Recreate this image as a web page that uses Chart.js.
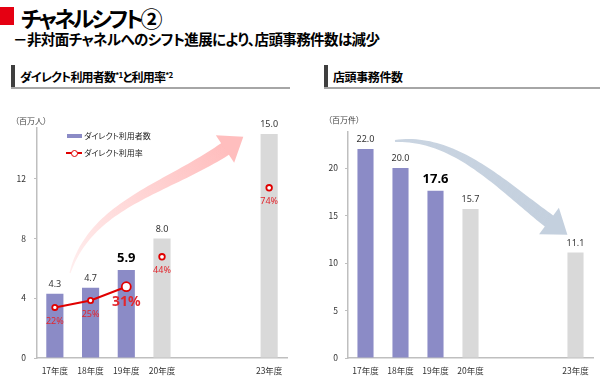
<!DOCTYPE html>
<html lang="ja">
<head>
<meta charset="utf-8">
<script src="https://cdn.jsdelivr.net/npm/chart.js@4"></script>
<style>
  body { margin: 0; width: 600px; height: 389px; background: #fff; overflow: hidden; position: relative;
         font-family: "Noto Sans CJK JP", sans-serif; font-feature-settings: "palt"; color: #000; }
  .abs { position: absolute; white-space: nowrap; line-height: 1; }
  canvas { position: absolute; top: 100px; }
</style>
</head>
<body>
<div class="abs" style="left:0;top:7px;width:14px;height:18px;background:#E50012"></div>
<div class="abs" style="left:21px;top:6px;font-size:22px;font-weight:bold;letter-spacing:-3px">チャネルシフト②</div>
<div class="abs" style="left:13px;top:32px;font-size:14.5px;font-weight:bold;letter-spacing:-0.6px">－非対面チャネルへのシフト進展により、店頭事務件数は減少</div>

<div class="abs" style="left:11px;top:65px;width:4px;height:23px;background:#3f3f3f"></div>
<div class="abs" style="left:11px;top:87px;width:279px;height:1.5px;background:#a6a6a6"></div>
<div class="abs" style="left:20px;top:71px;font-size:12px;font-weight:bold;letter-spacing:-0.8px">ダイレクト利用者数<span style="font-size:8px;position:relative;top:-4px">*1</span>と利用率<span style="font-size:8px;position:relative;top:-4px">*2</span></div>

<div class="abs" style="left:324px;top:65px;width:4px;height:23px;background:#3f3f3f"></div>
<div class="abs" style="left:324px;top:87px;width:276px;height:1.5px;background:#a6a6a6"></div>
<div class="abs" style="left:333px;top:71px;font-size:12px;font-weight:bold;letter-spacing:-0.4px">店頭事務件数</div>

<canvas id="leftChart" width="300" height="289" style="left:0"></canvas>
<canvas id="rightChart" width="300" height="289" style="left:300px"></canvas>

<div class="abs" style="left:15px;top:117px;font-size:8px;color:#404040">（百万人）</div>
<div class="abs" style="left:328px;top:116px;font-size:8px;color:#404040">（百万件）</div>

<div id="legend"></div>

<script>
// 年度 (21・22年度は空き)
const years = ['17年度', '18年度', '19年度', '20年度', '', '', '23年度'];
// ダイレクト利用者数 (百万人)
const directUsers = [4.3, 4.7, 5.9, 8.0, null, null, 15.0];
// ダイレクト利用率 (%) 実績 / 計画
const rateActual = [22, 25, 31, null, null, null, null];
const ratePlan = [null, null, null, 44, null, null, 74];
// 店頭事務件数 (百万件)
const counterCases = [22.0, 20.0, 17.6, 15.7, null, null, 11.1];

const usersLabel = 'ダイレクト利用者数';
const rateLabel = 'ダイレクト利用率';
const actualCount = 3;     // 17〜19年度が実績
const highlightIndex = 2;  // 19年度を強調

const BLUE = '#8b8bc6';
const GRAY = '#d9d9d9';
const RED = '#e00000';
const AXIS = '#bfbfbf';

const barColors = vals => vals.map((v, i) => i < actualCount ? BLUE : GRAY);

// 値ラベル
const valueLabels = {
    id: 'valueLabels',
    afterDatasetsDraw(chart) {
        const ctx = chart.ctx;
        chart.data.datasets.forEach((ds, di) => {
            const meta = chart.getDatasetMeta(di);
            meta.data.forEach((el, i) => {
                const v = ds.data[i];
                if (v == null) return;
                const big = i === highlightIndex;
                ctx.save();
                ctx.textAlign = 'center';
                ctx.textBaseline = 'middle';
                if (ds.kind === 'bar') {
                    ctx.font = big ? 'bold 13px "Noto Sans"' : '9px "Noto Sans"';
                    ctx.fillStyle = big ? '#000' : '#333';
                    ctx.fillText(v.toFixed(1), el.x, el.y - (big ? 12 : 9.5));
                } else {
                    ctx.font = big ? 'bold 14px "Noto Sans"' : '9px "Noto Sans"';
                    ctx.fillStyle = '#e3262d';
                    ctx.fillText(v + '%', el.x, el.y + (big ? 15 : 14));
                }
                ctx.restore();
            });
        });
    }
};

// 曲がった矢印 (飾り)
const curvedArrow = {
    id: 'curvedArrow',
    beforeDatasetsDraw(chart, args, o) {
        const ctx = chart.ctx;
        const [p0, p1, p2, p3] = o.pts;
        const bez = (t, k) => (1 - t) ** 3 * p0[k] + 3 * (1 - t) ** 2 * t * p1[k] + 3 * (1 - t) * t * t * p2[k] + t ** 3 * p3[k];
        const der = (t, k) => 3 * (1 - t) ** 2 * (p1[k] - p0[k]) + 6 * (1 - t) * t * (p2[k] - p1[k]) + 3 * t * t * (p3[k] - p2[k]);
        const N = 50, L = [], R = [];
        let nx = 0, ny = 0, dx = 0, dy = 0;
        for (let i = 0; i <= N; i++) {
            const t = i / N;
            const x = bez(t, 0), y = bez(t, 1);
            dx = der(t, 0); dy = der(t, 1);
            const len = Math.hypot(dx, dy);
            dx /= len; dy /= len;
            nx = -dy; ny = dx;
            const w = (o.w0 + (o.w1 - o.w0) * Math.pow(t, 0.8)) / 2;
            L.push([x + nx * w, y + ny * w]);
            R.push([x - nx * w, y - ny * w]);
        }
        const hw = o.headW / 2;
        ctx.save();
        ctx.beginPath();
        L.forEach((p, i) => i ? ctx.lineTo(p[0], p[1]) : ctx.moveTo(p[0], p[1]));
        ctx.lineTo(p3[0] + nx * hw, p3[1] + ny * hw);
        ctx.lineTo(p3[0] + dx * o.headL, p3[1] + dy * o.headL);
        ctx.lineTo(p3[0] - nx * hw, p3[1] - ny * hw);
        R.slice().reverse().forEach(p => ctx.lineTo(p[0], p[1]));
        ctx.closePath();
        const g = ctx.createLinearGradient(p0[0], p0[1], p3[0], p3[1]);
        g.addColorStop(0, o.color0);
        g.addColorStop(1, o.color1);
        ctx.fillStyle = g;
        ctx.fill();
        ctx.restore();
    }
};

const tickFont = { family: '"Noto Sans CJK JP"', size: 8.5 };

function xAxis() {
    return {
        offset: true,
        grid: { display: true, drawOnChartArea: false, drawTicks: false },
        border: { color: AXIS, width: 1.5 },
        ticks: { font: tickFont, color: '#333', padding: 8, autoSkip: false, maxRotation: 0 },
        afterFit: s => { s.height = 31; }
    };
}

function yAxis(max, step, width, pad) {
    return {
        position: 'left',
        min: 0,
        max: max,
        grid: { display: true, drawOnChartArea: false, tickLength: 3, color: AXIS },
        border: { color: AXIS, width: 1.5 },
        ticks: { stepSize: step, includeBounds: false, font: tickFont, color: '#333', padding: pad },
        afterFit: s => { s.width = width; }
    };
}

new Chart(document.getElementById('leftChart'), {
    type: 'bar',
    data: {
        labels: years,
        datasets: [
            {
                type: 'line', kind: 'rate', label: rateLabel, data: rateActual, yAxisID: 'y2', order: 1,
                borderColor: RED, borderWidth: 2, pointBackgroundColor: '#fff', pointBorderColor: RED,
                pointBorderWidth: 1.8, pointRadius: rateActual.map((v, i) => i === highlightIndex ? 4.5 : 2.6)
            },
            {
                type: 'line', kind: 'rate', label: rateLabel + '(計画)', data: ratePlan, yAxisID: 'y2', order: 1,
                showLine: false, borderColor: RED, pointBackgroundColor: '#fff', pointBorderColor: RED,
                pointBorderWidth: 1.8, pointRadius: 2.8
            },
            {
                kind: 'bar', label: usersLabel, data: directUsers, order: 2,
                backgroundColor: barColors(directUsers), barPercentage: 0.48, categoryPercentage: 1
            }
        ]
    },
    options: {
        responsive: false,
        animation: false,
        layout: { padding: { top: 28, right: 13, left: 0, bottom: 0 } },
        plugins: {
            legend: { display: false },
            tooltip: { enabled: false },
            curvedArrow: {
                pts: [[70, 173], [90, 105], [165, 89], [225, 49]],
                w0: 1, w1: 14, headW: 33, headL: 22,
                color0: 'rgba(255,190,190,0.25)', color1: 'rgba(255,190,190,1)'
            }
        },
        scales: {
            x: xAxis(),
            y: yAxis(15.4, 4, 37, 8),
            y2: { display: false, min: 0, max: 100 }
        }
    },
    plugins: [curvedArrow, valueLabels]
});

new Chart(document.getElementById('rightChart'), {
    type: 'bar',
    data: {
        labels: years,
        datasets: [{
            kind: 'bar', label: '店頭事務件数', data: counterCases,
            backgroundColor: barColors(counterCases), barPercentage: 0.46, categoryPercentage: 1
        }]
    },
    options: {
        responsive: false,
        animation: false,
        layout: { padding: { top: 32, right: 7, left: 0, bottom: 0 } },
        plugins: {
            legend: { display: false },
            tooltip: { enabled: false },
            curvedArrow: {
                pts: [[95, 41], [155, 36], [201, 85], [249, 121]],
                w0: 2, w1: 14, headW: 33, headL: 23,
                color0: 'rgba(196,208,222,0.9)', color1: 'rgba(196,208,222,1)'
            }
        },
        scales: {
            x: xAxis(),
            y: yAxis(23.8, 5, 48, 7)
        }
    },
    plugins: [curvedArrow, valueLabels]
});

// 凡例
document.getElementById('legend').innerHTML =
    `<div class="abs" style="left:67px;top:134px;width:15px;height:4px;background:${BLUE}"></div>
     <div class="abs" style="left:84px;top:132px;font-size:8px;color:#222">${usersLabel}</div>
     <div class="abs" style="left:66px;top:152px;width:16px;height:2px;background:${RED}"></div>
     <div class="abs" style="left:70.5px;top:149.5px;width:7px;height:7px;box-sizing:border-box;border:1.6px solid ${RED};border-radius:50%;background:#fff"></div>
     <div class="abs" style="left:84px;top:149px;font-size:8px;color:#222">${rateLabel}</div>`;
</script>
</body>
</html>
